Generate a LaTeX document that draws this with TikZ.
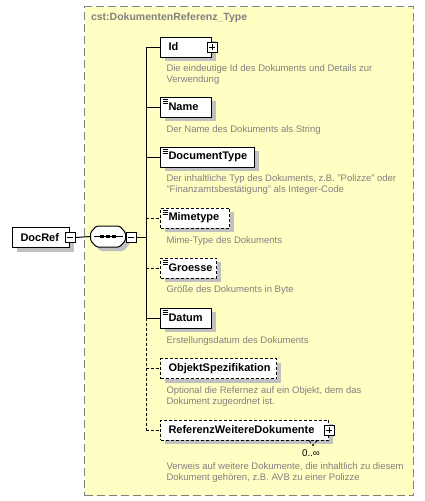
\documentclass[tikz,border=0pt]{standalone}
\usepackage{fontspec}
\setmainfont{Liberation Sans}
\usetikzlibrary{positioning,shadows}
\definecolor{typebg}{RGB}{255,255,196}
\definecolor{typegray}{RGB}{128,128,128}
\definecolor{shade}{RGB}{192,192,192}

\begin{document}
\begin{tikzpicture}[x=1pt,y=-1pt,line width=1pt,
  typebox/.style={draw=typegray,fill=typebg,dash pattern=on 8pt off 4pt,anchor=north west,inner sep=0pt},
  shadowed/.style={drop shadow={shadow xshift=4pt,shadow yshift=-4pt,fill=shade,opacity=1}},
  elem/.style={draw,fill=white,anchor=west,minimum height=20pt,inner xsep=8pt,inner ysep=0pt,align=left,
    font=\bfseries\fontsize{11}{13}\selectfont,shadowed},
  opt/.style={dash pattern=on 3pt off 2pt},
  simple/.style={path picture={\foreach \k in {2.5,4.5,6.5}
    \draw[solid,line width=0.8pt] ([xshift=2pt,yshift=-\k pt]path picture bounding box.north west) -- ++(5pt,0);}},
  pm/.style={draw,solid,fill=white,minimum size=10pt,inner sep=0pt},
  minus/.style={pm,path picture={\draw ([xshift=2pt]path picture bounding box.west) -- ([xshift=-2pt]path picture bounding box.east);}},
  plus/.style={pm,path picture={\draw ([xshift=2pt]path picture bounding box.west) -- ([xshift=-2pt]path picture bounding box.east);
    \draw ([yshift=-2pt]path picture bounding box.north) -- ([yshift=2pt]path picture bounding box.south);}},
  desc/.style={anchor=west,inner sep=0pt,align=left,text=typegray,font=\fontsize{9.5}{11}\selectfont}]
\useasboundingbox (0,0) rectangle (424,501);

% the complex type
\node[typebox,minimum width=329pt,minimum height=489pt] (cst) at (84,6) {};
\node[anchor=west,inner sep=0pt,text=typegray,font=\bfseries\fontsize{10.5}{12}\selectfont] (ttl) at (90.5,17.5) {cst:DokumentenReferenz\_Type};

% root element and sequence
\node[elem,text width=41pt] (docref) at (12,237.5) {DocRef};
\node[minus] (docpm) at (docref.east) {};
\node[minimum width=34pt,minimum height=20pt,inner sep=0pt] (seq) at (108,236.5) {};
\draw[fill=white,shadowed,rounded corners=1.5pt] ([xshift=6pt]seq.north west) -- ([xshift=-6pt]seq.north east)
    -- ([yshift=4pt]seq.east) -- ([yshift=-4pt]seq.east) -- ([xshift=-6pt]seq.south east)
    -- ([xshift=6pt]seq.south west) -- ([yshift=-4pt]seq.west) -- ([yshift=4pt]seq.west) -- cycle;
\node[minus,anchor=west] (seqpm) at ([yshift=-1pt]seq.east) {};
\draw ([xshift=3pt]seq.west) -- ([xshift=-3pt]seq.east);
\foreach \dx in {-6,0,6}
    \fill ([xshift=\dx pt-2pt,yshift=-1.5pt]seq.center) rectangle +(4pt,3pt);

% child elements
\node[elem,text width=35pt] (e1) at (160,47) {Id};
\node[plus] (p1) at (e1.east) {};
\node[elem,simple,text width=35pt] (e2) at (160,107) {Name};
\node[elem,simple,text width=78pt] (e3) at (160,157) {DocumentType};
\node[elem,simple,opt,text width=53pt] (e4) at (160,218) {Mimetype};
\node[elem,simple,opt,text width=40pt] (e5) at (160,268) {Groesse};
\node[elem,simple,text width=35pt] (e6) at (160,318) {Datum};
\node[elem,opt,text width=100pt] (e7) at (160,368.5) {ObjektSpezifikation};
\node[elem,opt,text width=152pt] (e8) at (160,430) {ReferenzWeitereDokumente};
\node[plus] (p8) at (e8.east) {};
\draw[opt,line width=0.8pt] ([xshift=-20pt]e8.south east) -- ++(4pt,-5pt) -- ++(4pt,5pt);
\node[inner sep=0pt,font=\fontsize{9.8}{11}\selectfont] (m8) at (311,453.5) {0..∞};

% annotations
\node[desc] (d1) at (166,74.5) {Die eindeutige Id des Dokuments und Details zur\\Verwendung};
\node[desc] (d2) at (166,130) {Der Name des Dokuments als String};
\node[desc] (d3) at (166,185) {Der inhaltliche Typ des Dokuments, z.B. "Polizze" oder\\"Finanzamtsbestätigung" als Integer-Code};
\node[desc] (d4) at (166,240.7) {Mime-Type des Dokuments};
\node[desc] (d5) at (166,290) {Größe des Dokuments in Byte};
\node[desc] (d6) at (166,340.7) {Erstellungsdatum des Dokuments};
\node[desc] (d7) at (166,396.3) {Optional die Refernez auf ein Objekt, dem das\\Dokument zugeordnet ist.};
\node[desc] (d8) at (166,472.8) {Verweis auf weitere Dokumente, die inhaltlich zu diesem\\Dokument gehören, z.B. AVB zu einer Polizze};

% connectors
\coordinate (stop) at (146,47);
\coordinate (smid) at (146,318);
\coordinate (send) at (146,430);
\draw (docpm.east) -- (seq.west);
\draw (seqpm.east) -- (stop |- seqpm.east);
\draw (stop) -- (smid);
\draw[opt] (smid) -- (send);
\foreach \i in {1,2,3,6}
    \draw (stop |- e\i.west) -- (e\i.west);
\foreach \i in {4,5,7,8}
    \draw[opt] (stop |- e\i.west) -- (e\i.west);
\end{tikzpicture}
\end{document}
